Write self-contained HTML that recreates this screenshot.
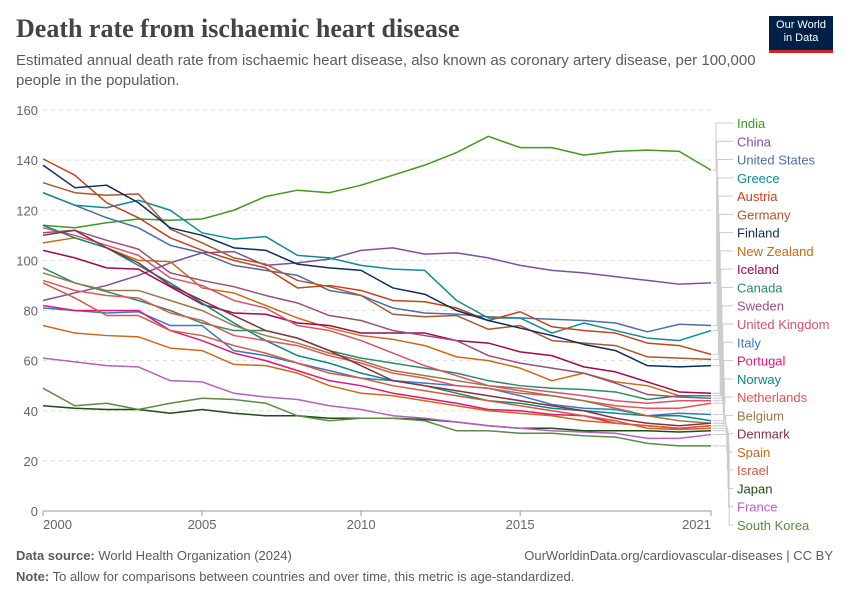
<!DOCTYPE html>
<html><head><meta charset="utf-8"><style>
body{margin:0;background:#fff;font-family:"Liberation Sans",sans-serif;}
#wrap{position:relative;width:850px;height:600px;overflow:hidden;}
.t{position:absolute;white-space:nowrap;}
</style></head><body>
<div id="wrap">
<div class="t" style="left:16px;top:14px;font-family:'Liberation Serif',serif;font-size:26px;font-weight:bold;color:#444;">Death rate from ischaemic heart disease</div>
<div class="t" style="left:16px;top:51px;font-size:15px;line-height:20px;color:#5b5b5b;white-space:normal;width:740px;">Estimated annual death rate from ischaemic heart disease, also known as coronary artery disease, per 100,000 people in the population.</div>
<div style="position:absolute;left:769px;top:16px;width:64px;height:37px;background:#002147;color:#fff;font-size:11px;line-height:13px;text-align:center;padding-top:3px;box-sizing:border-box;border-bottom:3px solid #ce261e;">Our World<br>in Data</div>
<svg id="chart" width="850" height="600" style="position:absolute;left:0;top:0"></svg>
<div class="t" style="left:16px;top:548px;font-size:13px;color:#5b5b5b;"><b>Data source:</b> World Health Organization (2024)</div>
<div class="t" style="right:17px;top:548px;font-size:13px;color:#5b5b5b;">OurWorldinData.org/cardiovascular-diseases | CC BY</div>
<div class="t" style="left:16px;top:569px;font-size:13px;color:#5b5b5b;"><b>Note:</b> To allow for comparisons between countries and over time, this metric is age-standardized.</div>
</div>
<script>
const years=[2000,2001,2002,2003,2004,2005,2006,2007,2008,2009,2010,2011,2012,2013,2014,2015,2016,2017,2018,2019,2020,2021];
const yTicks=[0,20,40,60,80,100,120,140,160];
const xTicks=[2000,2005,2010,2015,2021];
const countries=["India","China","United States","Greece","Austria","Germany","Finland","New Zealand","Iceland","Canada","Sweden","United Kingdom","Italy","Portugal","Norway","Netherlands","Belgium","Denmark","Spain","Israel","Japan","France","South Korea"];
const colors=["#3f9a1e","#7d4fa5","#4b6ea8","#0f8c93","#c4441a","#a65a30","#0d2d5c","#c46d14","#a3074e","#2b8c66","#97507d","#d5546c","#3a77c7","#e0167b","#0a8a7e","#e35555","#9a7847","#8a2f3f","#d0661a","#d35a40","#1c4d14","#b55fbe","#5b8b45"];
const vIndia=[114,113,115,116.5,116,116.5,120,125.5,128,127,130,134,138,143,149.5,145,145,142,143.5,144,143.5,136];
const vChina=[84,87,90,94,99,103,103.5,98,99,100.5,104,105,102.5,103,101,98,96,95,93.5,92,90.5,91];
const vUS=[127,122,117,113,106,103,98,96,94,88,86,81,79,78.5,77.5,77,76.5,76,75,71.5,74.5,74];
const vGreece=[127,122,121,124,120,111,108.5,109.5,102,101,98,96.5,96,84,77,77,71,75,72,69,68,72];
const vAustria=[140.5,134,123,117,109,104,100,97,89,90,88,84,83.5,81,76,79.5,73.5,72,71,67,66,62.5];
const vGermany=[131,127,126,126.5,112.5,107,101,98.5,92,89.5,86,78.5,77.5,78,72.5,74,68,67,66,61.5,61,60.5];
const vFinland=[138,129,130,123,113,110,105,104,98.5,97,96,89,86.5,80,76,73,70,66.5,64,58,57.5,58];
const vNZ=[107,109,105,100,99.5,89,87,82,77,73,70,68.5,66,61.5,60,57,52,55,51.5,50,46,46];
const vIceland=[104,101,97,96.5,89.5,82.5,79,78.5,75,74,71,71,71,68,67,63.5,62,57.5,55.5,51.5,47.5,47];
const vCanada=[97,91,87.5,84,80,75,72,72,69,64,61,59,57,55,52,50,49,48.5,47.5,44.5,46,46];
const vSweden=[111,112,108,104.5,95,92,89.5,86,83,78,76,72,70,68,62,59,57,55,51,46.5,45.5,45];
const vUK=[113,110,106,102,93,90,84,81,74,72,68,63,58,54,50,49,47.5,46,44,43,44,44];
const vItaly=[81,80,79,79.5,74,74,64,62,59,56,53,52,51,50,49,46,42.5,41,40.5,38,39,38.5];
const vPortugal=[82,80,80,80,72,68,63,60,56,52,50,47,45,43,40.5,40,38.5,38,35,34,33,34];
const vNorway=[114,109,105,98,91,83,75,68,62,59,55,52,50,47,44,43,41,40,39,38,38,36];
const vNetherlands=[92,88,86,85,79,76,70,68,66,62,59,55,53,50,49,47,46,44,42,41,41,43];
const vBelgium=[95,91,88,88,84,80,74,70,67,63,60,56,54,52,50,48,46,44,41,38,36,35];
const vDenmark=[110,112,105,99,90,84,78,72,69,64,58,52,50,48,46,44,42,40,37,35,34,35];
const vSpain=[74,71,70,69.5,65,64,58.5,58,55,50,47,46,44,42,40,39,38,36,35,34,33,34];
const vIsrael=[91,85,78,78,72,70,66,63,59,55,53,50,48,46,44,42,40,38,36,33,32.5,33];
const vJapan=[42,41,40.5,40.5,39,40.5,39,38,38,37,37,37,36.5,35.5,34,33,33,32,32,32,31.5,32];
const vFrance=[61,59.5,58,57.5,52,51.5,47,45.5,44.5,42,40.5,38,37,35.5,34,33,32,31.5,31,29,29,30.5];
const vKorea=[49,42,43,40.5,43,45,44.5,43,38,36,37,37,36,32,32,31,31,30,29.5,27,26,26];
const series=[vIndia,vChina,vUS,vGreece,vAustria,vGermany,vFinland,vNZ,vIceland,vCanada,vSweden,vUK,vItaly,vPortugal,vNorway,vNetherlands,vBelgium,vDenmark,vSpain,vIsrael,vJapan,vFrance,vKorea];

const NS="http://www.w3.org/2000/svg";
const svg=document.getElementById('chart');
const X0=43,X1=711,Y0=511,Y1=110;
const xs=y=>X0+(y-2000)/(2021-2000)*(X1-X0);
const ys=v=>Y0-v/160*(Y0-Y1);
function mk(tag,attrs){const e=document.createElementNS(NS,tag);for(const k in attrs)e.setAttribute(k,attrs[k]);svg.appendChild(e);return e;}
yTicks.forEach(t=>{
  if(t>0){const g=mk('line',{x1:X0,x2:X1,y1:ys(t),y2:ys(t),stroke:'#ddd','stroke-dasharray':'4,4'});
  
  }
  const l=mk('text',{x:38,y:ys(t)+5,'text-anchor':'end','font-size':'13','fill':'#666','font-family':'Liberation Sans, sans-serif'});
  l.textContent=t;
  
  
});
const ax=mk('line',{x1:X0,x2:X1,y1:Y0,y2:Y0,stroke:'#999'});


xTicks.forEach(t=>{
  const tk=mk('line',{x1:xs(t),x2:xs(t),y1:Y0,y2:Y0+5,stroke:'#999'});
  
  
  const anchor=t===2000?'start':(t===2021?'end':'middle');
  const l=mk('text',{x:xs(t),y:529,'text-anchor':anchor,'font-size':'13','fill':'#666','font-family':'Liberation Sans, sans-serif'});
  l.textContent=t;
  
  
});
series.forEach((s,i)=>{
  const p=mk('polyline',{points:s.map((v,j)=>xs(years[j])+','+ys(v)).join(' '),fill:'none',stroke:colors[i],'stroke-width':'1.5','stroke-linejoin':'round'});
  
  
});
series.forEach((s,i)=>{
  const ly=123+i*(525-123)/22;
  const ye=ys(s[s.length-1]);
  const bx=716+i*0.6;
  const c=mk('polyline',{points:`${X1+2},${ye} ${bx},${ye} ${bx},${ly} 733,${ly}`,fill:'none',stroke:'#ccc','stroke-width':'1'});
  
  
  const t=mk('text',{x:737,y:ly+5,'font-size':'13','fill':colors[i],'font-family':'Liberation Sans, sans-serif'});
  t.textContent=countries[i];
  
  
});
</script>
</body></html>
